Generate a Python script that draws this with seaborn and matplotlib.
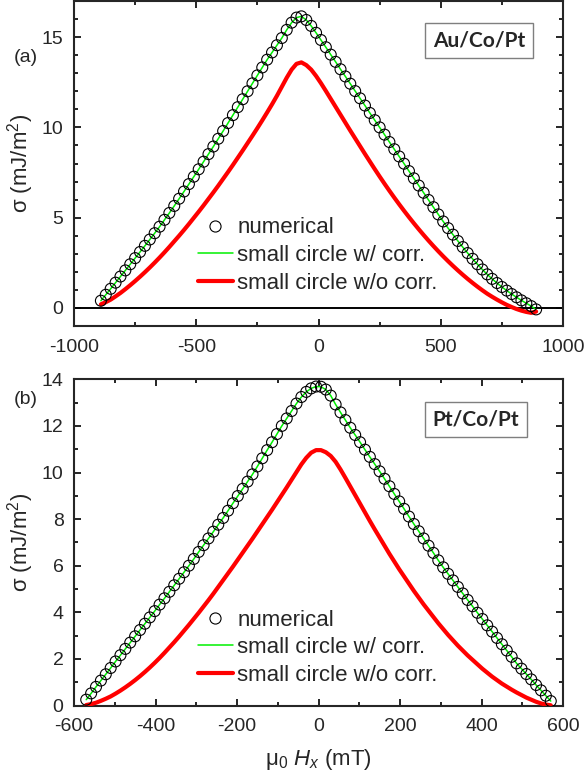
import numpy as np
import matplotlib
matplotlib.use("Agg")
import matplotlib.pyplot as plt
from matplotlib.ticker import MultipleLocator
from matplotlib.lines import Line2D
import seaborn as sns

# ---- panel (a) Au/Co/Pt, sampled every 20 mT ----
hx_a = list(range(-890, 891, 20))
sigma_num_a = [0.40, 0.73, 1.06, 1.40, 1.74, 2.08, 2.42, 2.76, 3.10, 3.44,
               3.79, 4.14, 4.50, 4.88, 5.26, 5.65, 6.05, 6.45, 6.86, 7.27,
               7.68, 8.10, 8.52, 8.94, 9.37, 9.80, 10.24, 10.68, 11.12, 11.56,
               12.00, 12.44, 12.88, 13.32, 13.75, 14.15, 14.55, 14.95, 15.40, 15.80,
               16.08, 16.15, 15.95, 15.62, 15.24, 14.84, 14.44, 14.03, 13.63, 13.22,
               12.82, 12.42, 12.01, 11.61, 11.21, 10.80, 10.40, 10.00, 9.60, 9.19,
               8.79, 8.39, 7.99, 7.58, 7.18, 6.78, 6.38, 5.98, 5.58, 5.18,
               4.79, 4.42, 4.06, 3.71, 3.37, 3.04, 2.72, 2.42, 2.13, 1.86,
               1.61, 1.38, 1.16, 0.96, 0.77, 0.59, 0.42, 0.26, 0.10, -0.08]
sigma_corr_a = list(sigma_num_a)
sigma_nocorr_a = [0.20, 0.32, 0.46, 0.64, 0.83, 1.04, 1.26, 1.49, 1.73, 1.98,
                  2.24, 2.51, 2.79, 3.08, 3.38, 3.69, 4.00, 4.32, 4.65, 4.99,
                  5.33, 5.68, 6.04, 6.40, 6.77, 7.15, 7.53, 7.92, 8.32, 8.72,
                  9.13, 9.54, 9.96, 10.39, 10.83, 11.28, 11.75, 12.25, 12.75, 13.20,
                  13.52, 13.60, 13.45, 13.20, 12.85, 12.45, 12.02, 11.58, 11.14, 10.70,
                  10.26, 9.82, 9.39, 8.96, 8.53, 8.11, 7.69, 7.28, 6.88, 6.49,
                  6.11, 5.74, 5.38, 5.03, 4.69, 4.36, 4.04, 3.73, 3.43, 3.14,
                  2.86, 2.59, 2.33, 2.08, 1.84, 1.61, 1.39, 1.18, 0.98, 0.79,
                  0.62, 0.46, 0.31, 0.17, 0.05, -0.06, -0.15, -0.22, -0.27, -0.20]

# ---- panel (b) Pt/Co/Pt, sampled every 12 mT ----
hx_b = list(range(-570, 571, 12))
sigma_num_b = [0.25, 0.52, 0.80, 1.07, 1.34, 1.61, 1.89, 2.16, 2.43, 2.70,
               2.97, 3.24, 3.51, 3.78, 4.05, 4.33, 4.60, 4.88, 5.16, 5.44,
               5.72, 6.00, 6.29, 6.59, 6.88, 7.17, 7.46, 7.76, 8.05, 8.36,
               8.68, 8.99, 9.30, 9.61, 9.92, 10.26, 10.61, 10.96, 11.30, 11.65,
               12.00, 12.32, 12.64, 12.96, 13.24, 13.46, 13.61, 13.69,
               13.68, 13.56, 13.30, 12.92, 12.58, 12.25, 11.92, 11.61, 11.30, 10.98,
               10.67, 10.36, 10.05, 9.73, 9.41, 9.08, 8.76, 8.44, 8.11, 7.79,
               7.48, 7.17, 6.86, 6.55, 6.23, 5.93, 5.65, 5.37, 5.09, 4.81,
               4.53, 4.26, 3.98, 3.71, 3.44, 3.17, 2.90, 2.63, 2.36, 2.09,
               1.81, 1.58, 1.35, 1.12, 0.88, 0.65, 0.42, 0.19]
sigma_corr_b = list(sigma_num_b)
sigma_nocorr_b = [0.02, 0.06, 0.12, 0.20, 0.29, 0.39, 0.51, 0.64, 0.78, 0.93,
                  1.09, 1.26, 1.44, 1.63, 1.83, 2.04, 2.26, 2.49, 2.72, 2.96,
                  3.21, 3.46, 3.72, 3.98, 4.25, 4.52, 4.80, 5.09, 5.38, 5.67,
                  5.96, 6.26, 6.56, 6.86, 7.16, 7.47, 7.78, 8.09, 8.40, 8.72,
                  9.04, 9.36, 9.69, 10.02, 10.35, 10.63, 10.85, 10.96,
                  10.96, 10.87, 10.71, 10.46, 10.13, 9.77, 9.40, 9.03, 8.66, 8.29,
                  7.92, 7.56, 7.21, 6.86, 6.51, 6.18, 5.85, 5.54, 5.23, 4.92,
                  4.63, 4.34, 4.07, 3.80, 3.53, 3.28, 3.03, 2.80, 2.57, 2.36,
                  2.15, 1.96, 1.77, 1.58, 1.41, 1.24, 1.09, 0.94, 0.81, 0.68,
                  0.56, 0.45, 0.34, 0.25, 0.16, 0.09, 0.04, 0.01]

labels = ["numerical", "small circle w/ corr.", "small circle w/o corr."]
GREEN = "#00f000"
RED = "#ff0000"

sns.set_style("ticks")
plt.rcParams['font.family'] = ['Liberation Sans', 'DejaVu Sans']
plt.rcParams['mathtext.fontset'] = 'custom'
plt.rcParams['mathtext.rm'] = 'Liberation Sans'
plt.rcParams['mathtext.it'] = 'Liberation Sans:italic'
plt.rcParams['axes.unicode_minus'] = False

fig = plt.figure(figsize=(5.87, 7.83), dpi=100)
ax_a = fig.add_axes([74/587, 1 - 326/783, 489/587, 325/783])
ax_b = fig.add_axes([74/587, 1 - 705.5/783, 489/587, 326.2/783])


def draw_panel(ax, hx, num, corr, nocorr):
    sns.lineplot(x=hx, y=corr, ax=ax, color=GREEN, lw=1.1, zorder=2)
    sns.lineplot(x=hx, y=nocorr, ax=ax, color=RED, lw=3, zorder=3)
    ax.scatter(hx, num, s=62, facecolors="none", edgecolors="black", linewidths=0.8, zorder=4)
    for sp in ax.spines.values():
        sp.set_linewidth(1.5)
        sp.set_visible(True)
    ax.tick_params(which="both", direction="in", top=True, right=True,
                   labelsize=14, width=1.2, color="black")
    ax.tick_params(which="major", length=5)
    ax.tick_params(which="minor", length=2.8)
    ax.tick_params(axis="x", which="both", pad=9)
    ax.tick_params(axis="y", which="both", pad=7.5)
    ax.set_ylabel("σ (mJ/m$^2$)", fontsize=16)
    ax.yaxis.set_label_coords(-0.077, 0.5)
    handles = [Line2D([], [], marker="o", ls="", mfc="none", mec="black", ms=8, mew=0.8),
               Line2D([], [], color=GREEN, lw=1.1),
               Line2D([], [], color=RED, lw=3)]
    return handles


leg_kw = dict(loc="upper left", frameon=False, fontsize=16, handlelength=1.55,
              handletextpad=0.2, labelspacing=0.3, borderpad=0, borderaxespad=0)

h = draw_panel(ax_a, hx_a, sigma_num_a, sigma_corr_a, sigma_nocorr_a)
ax_a.axhline(0, color="black", lw=1.4, zorder=1)
ax_a.set_xlim(-1000, 1000)
ax_a.set_ylim(-1, 17)
ax_a.xaxis.set_major_locator(MultipleLocator(500))
ax_a.xaxis.set_minor_locator(MultipleLocator(250))
ax_a.yaxis.set_major_locator(MultipleLocator(5))
ax_a.yaxis.set_minor_locator(MultipleLocator(1))
ax_a.legend(h, labels, bbox_to_anchor=(0.254, 0.334), **leg_kw)

h = draw_panel(ax_b, hx_b, sigma_num_b, sigma_corr_b, sigma_nocorr_b)
ax_b.set_xlim(-600, 600)
ax_b.set_ylim(0, 14)
ax_b.xaxis.set_major_locator(MultipleLocator(200))
ax_b.xaxis.set_minor_locator(MultipleLocator(100))
ax_b.yaxis.set_major_locator(MultipleLocator(2))
ax_b.yaxis.set_minor_locator(MultipleLocator(1))
ax_b.legend(h, labels, bbox_to_anchor=(0.254, 0.294), **leg_kw)
ax_b.set_xlabel("μ$_0$ $H_x$ (mT)", fontsize=16)
ax_b.xaxis.set_label_coords(0.5, -0.128)

fig.text(26/587, 1 - 58/783, "(a)", ha="center", va="center", fontsize=14)
fig.text(26/587, 1 - 400/783, "(b)", ha="center", va="center", fontsize=14)

box = dict(boxstyle="square,pad=0.38", fc="white", ec="#7f7f7f", lw=1)
fig.text(479/587, 1 - 40.5/783, "Au/Co/Pt", ha="center", va="center", fontsize=15,
         fontweight="bold", family=["Lato", "DejaVu Sans"], bbox=box)
fig.text(476/587, 1 - 419.5/783, "Pt/Co/Pt", ha="center", va="center", fontsize=15,
         fontweight="bold", family=["Lato", "DejaVu Sans"], bbox=box)

fig.savefig("out.png", dpi=100)
